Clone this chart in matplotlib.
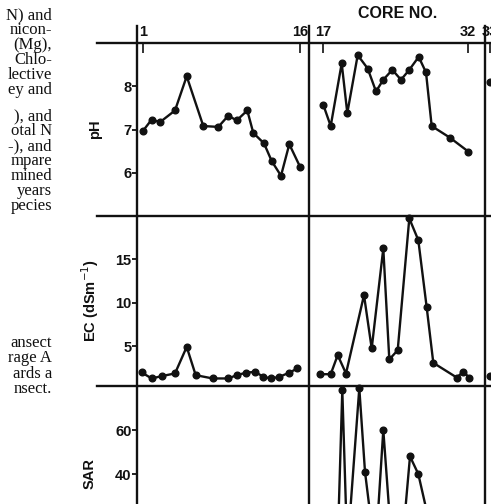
import matplotlib
matplotlib.use("Agg")
import matplotlib.pyplot as plt
from matplotlib.lines import Line2D

W, H = 491, 504

# ---------------- data ----------------
# positions along the transect (arbitrary distance units, first core of a column = 0)
ph_x_a = [0, 9, 17.3, 32.3, 44, 60.6, 75.6, 85.6, 94, 104.6, 110.6, 121.3, 129, 138.3, 146.6, 157.3]
ph_a = [6.96, 7.23, 7.17, 7.44, 8.23, 7.08, 7.06, 7.32, 7.21, 7.44, 6.92, 6.68, 6.27, 5.93, 6.66, 6.14]
ph_x_b = [0, 7.4, 18.4, 24, 34.4, 44.4, 52.7, 60, 69, 77.7, 86, 95.4, 102.7, 108.4, 126.7, 145]
ph_b = [7.57, 7.08, 8.53, 7.38, 8.72, 8.41, 7.88, 8.15, 8.38, 8.15, 8.38, 8.68, 8.32, 7.08, 6.81, 6.49]
ph_x_c = [0]
ph_c = [8.1]

ec_x_a = [-1, 9, 19, 32.3, 44, 53, 70, 85.6, 94, 103, 112.3, 120.6, 128.3, 136.6, 146.3, 154.6]
ec_a = [1.96, 1.27, 1.54, 1.85, 4.91, 1.65, 1.27, 1.27, 1.65, 1.92, 2.04, 1.46, 1.27, 1.46, 1.92, 2.42]
ec_x_b = [-3.3, 7.4, 14.4, 22.7, 40.7, 48.4, 60, 66, 74.4, 86, 95, 103.4, 110, 133.4, 140, 146]
ec_b = [1.76, 1.76, 3.96, 1.84, 10.88, 4.73, 16.26, 3.46, 4.53, 19.72, 17.22, 9.46, 3.07, 1.38, 2.03, 1.38]
ec_x_c = [0]
ec_c = [1.6]

sar_x_a = [0, 9, 17.3, 32.3, 44, 60.6, 75.6, 85.6, 94, 104.6, 110.6, 121.3, 129, 138.3, 146.6, 157.3]
sar_a = [4, 3, 3, 4, 9, 4, 3, 3, 4, 5, 5, 4, 3, 4, 5, 6]
sar_x_b = [-3.3, 7.4, 14.4, 19, 24, 36, 41.7, 52, 60, 69, 78, 86.7, 95, 110, 133.4, 146]
sar_b = [5, 4, 8, 78, 5, 79, 41, 3, 60, 4, 3, 48, 40, 10, 3, 4]
sar_x_c = [0]
sar_c = [5]

core_first = ["1", "17", "33"]
core_last = ["16", "32", None]

row_labels = ["pH", "EC (dSm$^{-1}$)", "SAR"]
row_limits = [(5, 9), (0.4, 20), (0, 80)]
row_ticks = [[6, 7, 8], [5, 10, 15], [40, 60]]

side_text = [
    ("N) and", 15), ("nicon-", 30), ("(Mg),", 45), ("Chlo-", 60), ("lective", 75),
    ("ey and", 90), ("), and", 116), ("otal N", 131), ("-), and", 146), ("mpare", 161),
    ("mined", 176), ("years", 191), ("pecies", 206),
    ("ansect", 343), ("rage A", 358), ("ards a", 374), ("nsect.", 389),
]

# ---------------- layout (pixels) ----------------
cols = [(137, 309), (309, 485), (485, 661)]
col_first_off = [5.7, 14.3, 5.0]
rows = [(43, 216), (216, 386), (386, 562)]

data = [
    [(ph_x_a, ph_a), (ph_x_b, ph_b), (ph_x_c, ph_c)],
    [(ec_x_a, ec_a), (ec_x_b, ec_b), (ec_x_c, ec_c)],
    [(sar_x_a, sar_a), (sar_x_b, sar_b), (sar_x_c, sar_c)],
]
last_pos = [157.3, 145, 150]

fig = plt.figure(figsize=(W / 100, H / 100), dpi=100)
ink = "#111111"
sans = "Liberation Sans"

def fx(p):
    return p / W

def fy(p):
    return 1 - p / H

for r, (y0, y1) in enumerate(rows):
    for c, (x0, x1) in enumerate(cols):
        ax = fig.add_axes([fx(x0), fy(y1), (x1 - x0) / W, (y1 - y0) / H])
        ax.set_facecolor("none")
        for s in ax.spines.values():
            s.set_visible(False)
        off = col_first_off[c]
        ax.set_xlim(-off, -off + (x1 - x0))
        ax.set_ylim(*row_limits[r])
        xs, ys = data[r][c]
        ax.plot(xs, ys, color=ink, lw=1.7, marker="o", ms=4.8,
                mfc=ink, mec=ink, clip_on=False, zorder=3)
        if c == 0:
            ax.set_yticks(row_ticks[r])
            ax.set_yticklabels([str(t) for t in row_ticks[r]], fontsize=10.5,
                               fontweight="bold", family=sans, color=ink)
            ax.tick_params(axis="y", direction="out", length=3.5, width=1.3,
                           pad=0.5, colors=ink)
            ax.set_ylabel(row_labels[r], fontsize=10.5, fontweight="bold",
                          family=sans, color=ink, labelpad=[15, 10, 13][r])
        else:
            ax.set_yticks([])
        if r == 0:
            ax.xaxis.set_ticks_position("top")
            if core_last[c] is None:
                ax.set_xticks([0])
                ax.set_xticklabels([core_first[c]])
            else:
                ax.set_xticks([0, last_pos[c]])
                ax.set_xticklabels([core_first[c], core_last[c]])
            for t in ax.get_xticklabels():
                t.set_fontsize(10.5)
                t.set_fontweight("bold")
                t.set_family(sans)
                t.set_color(ink)
            ax.tick_params(axis="x", direction="in", length=7, width=1.2,
                           pad=3, colors=ink)
        else:
            ax.set_xticks([])

# frame lines of the panel grid
for x in (137, 309, 485):
    fig.add_artist(Line2D([fx(x), fx(x)], [fy(26), fy(H + 5)], color=ink, lw=1.7))
for y in (43, 216, 386):
    fig.add_artist(Line2D([fx(97), fx(W + 5)], [fy(y), fy(y)], color=ink, lw=1.7))

fig.text(fx(398), fy(14), "CORE NO.", ha="center", va="center", fontsize=11.5,
         fontweight="bold", family=sans, color=ink)

for s, y in side_text:
    fig.text(fx(52), fy(y), s, ha="right", va="center", fontsize=12,
             family="Liberation Serif", color=ink)

fig.savefig("out.png", dpi=100)
